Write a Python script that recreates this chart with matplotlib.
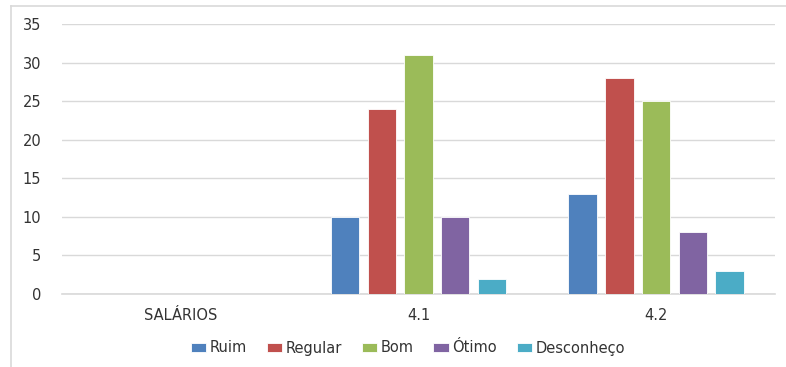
import numpy as np
import matplotlib
matplotlib.use("Agg")
import matplotlib.pyplot as plt
from matplotlib.lines import Line2D

plt.rcParams['font.family'] = ['DejaVu Sans']

categories = ["SALÁRIOS", "4.1", "4.2"]
series_names = ["Ruim", "Regular", "Bom", "Ótimo", "Desconheço"]
ruim = [None, 10, 13]
regular = [None, 24, 28]
bom = [None, 31, 25]
otimo = [None, 10, 8]
desconheco = [None, 2, 3]
colors = ["#4F81BD", "#C0504D", "#9BBB59", "#8064A2", "#4BACC6"]
y_ticks = [0, 5, 10, 15, 20, 25, 30, 35]

series = [ruim, regular, bom, otimo, desconheco]

fig = plt.figure(figsize=(7.86, 3.67), dpi=100)
ax = fig.add_axes([62 / 786, 1 - 294 / 367, (775 - 62) / 786, (294 - 24) / 367])

x = np.arange(len(categories))
step = 0.1545
width = 0.12
for i, (name, vals, c) in enumerate(zip(series_names, series, colors)):
    v = np.array([np.nan if s is None else s for s in vals], dtype=float)
    ax.bar(x + (i - 2) * step, v, width=width, color=c, label=name,
           edgecolor="white", linewidth=0.6, zorder=3)

ax.set_xlim(-0.5, len(categories) - 0.5)
ax.set_ylim(0, 35)
ax.set_yticks(y_ticks)
ax.set_xticks(x)
ax.set_xticklabels(categories)
ax.tick_params(axis="both", length=0, labelsize=10.5, colors="#333333")
ax.tick_params(axis="y", pad=15)
ax.tick_params(axis="x", pad=10)
ax.grid(axis="y", color="#D9D9D9", linewidth=1.0, zorder=0)
ax.axhline(0, color="#D9D9D9", linewidth=1.2, zorder=1, clip_on=False)
for s in ax.spines.values():
    s.set_visible(False)

leg = fig.legend(loc="center", bbox_to_anchor=(408 / 786, 1 - 348 / 367), ncol=5,
                 frameon=False, fontsize=10.5, handlelength=1.05, handleheight=0.55,
                 handletextpad=0.25, columnspacing=1.35, labelcolor="#333333")

# Chart frame (top and left edges)
fig.add_artist(Line2D([10.5 / 786, 10.5 / 786], [0, 1 - 6 / 367],
                      transform=fig.transFigure, color="#D9D9D9", linewidth=1.2))
fig.add_artist(Line2D([10.5 / 786, 1], [1 - 6 / 367, 1 - 6 / 367],
                      transform=fig.transFigure, color="#D9D9D9", linewidth=1.2))

fig.savefig("out.png", dpi=100, facecolor="white")
